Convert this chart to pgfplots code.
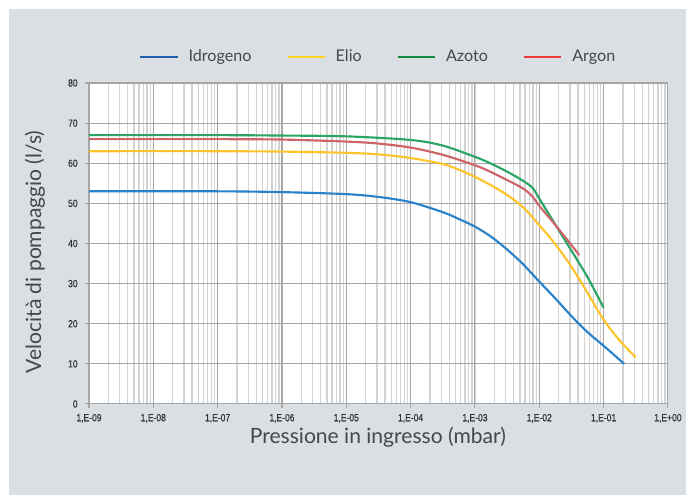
\documentclass[border=0pt]{standalone}
\usepackage{pgfplots}
\pgfplotsset{compat=1.18}
\usepackage{fontspec}
\setmainfont{Lato}
\newfontfamily\tickfont[FakeStretch=0.82,FakeBold=0.6]{Liberation Sans}
\definecolor{panel}{HTML}{D9DFE2}
\definecolor{cblue}{HTML}{2A82CA}
\definecolor{cyellow}{HTML}{FEC42C}
\definecolor{cgreen}{HTML}{2AA565}
\definecolor{cred}{HTML}{CE6468}
\definecolor{lblue}{HTML}{1F5FAE}
\definecolor{lyellow}{HTML}{FFD21F}
\definecolor{lgreen}{HTML}{138A43}
\definecolor{lred}{HTML}{EE3A3A}
\definecolor{txt}{HTML}{333333}
\definecolor{ltxt}{HTML}{474747}
\definecolor{gmaj}{HTML}{A6A6A6}
\definecolor{gmin}{HTML}{D3D3D3}
\begin{document}
\begin{tikzpicture}[x=0.75pt,y=0.75pt]
\fill[white] (0,0) rectangle (686,496);
\fill[panel] (9,1) rectangle (686,487);
\begin{axis}[
  at={(66.75pt,69pt)}, anchor=south west,
  scale only axis, width=434.25pt, height=240.75pt,
  xmode=log, xmin=1e-9, xmax=1, ymin=0, ymax=80,
  axis background/.style={fill=white},
  xtick={1e-9,1e-8,1e-7,1e-6,1e-5,1e-4,1e-3,1e-2,1e-1,1},
  xticklabels={{1,E-09},{1,E-08},{1,E-07},{1,E-06},{1,E-05},{1,E-04},{1,E-03},{1,E-02},{1,E-01},{1,E+00}},
  ytick={0,10,...,80},
  /pgf/number format/assume math mode=true,
  ticklabel style={font=\tickfont\fontsize{7.8}{9}\selectfont, text=txt},
  xticklabel style={yshift=-1pt},
  yticklabel style={xshift=-2pt},
  grid=both,
  major grid style={gmaj, line width=0.8pt},
  minor grid style={gmin, line width=0.9pt},
  minor x tick num=8,
  axis line style={gmaj, line width=0.8pt},
  tick style={gmaj, line width=0.8pt},
  tick align=outside, major tick length=3pt, minor tick length=0pt,
  xtick pos=bottom, ytick pos=left,
  legend columns=4,
  legend style={at={(0.5,1.081)}, anchor=center, draw=none, fill=none,
    font=\fontsize{12.1}{14}\selectfont, text=ltxt,
    /tikz/every odd column/.append style={column sep=5pt},
    /tikz/every even column/.append style={column sep=24pt}},
  legend image code/.code={\draw[#1, line width=2.2pt] (0pt,0pt) -- (28pt,0pt);},
  every axis plot/.append style={line width=1.6pt, smooth, tension=0.5},
]
\addplot[cblue, forget plot] coordinates {
(1e-9,53.0) (1e-7,53.0) (1e-6,52.8) (1e-5,52.3) (3.162e-5,51.6) (1e-4,50.3)
(3.162e-4,47.8) (5.623e-4,46.1) (1e-3,44.2) (1.778e-3,41.7) (3.162e-3,38.5) (5.623e-3,34.8)
(1e-2,30.5) (1.778e-2,26.3) (3.162e-2,21.9) (5.623e-2,17.9) (1e-1,14.5) (1.413e-1,12.4)
(2.09e-1,10.0)};
\addplot[cyellow, forget plot] coordinates {
(1e-9,63.0) (1e-7,63.0) (1e-6,62.9) (1e-5,62.6) (3.162e-5,62.2) (1e-4,61.3)
(3.162e-4,59.8) (5.623e-4,58.4) (1e-3,56.6) (1.778e-3,54.5) (3.162e-3,52.1) (5.623e-3,49.0)
(1e-2,44.6) (1.778e-2,39.8) (3.162e-2,34.2) (5.623e-2,27.7) (1e-1,21.0) (1.778e-1,15.8)
(3.162e-1,11.6)};
\addplot[cgreen, forget plot] coordinates {
(1e-9,67.0) (1e-7,67.0) (1e-6,66.9) (1e-5,66.7) (1e-4,65.8) (3.162e-4,64.4)
(1e-3,61.6) (1.778e-3,59.9) (3.162e-3,57.9) (5.623e-3,55.6) (7.94e-3,53.8) (1e-2,51.2)
(1.778e-2,44.7) (3.162e-2,38.2) (5.623e-2,31.6) (1e-1,24.0)};
\addplot[cred, forget plot] coordinates {
(1e-9,66.0) (1e-7,66.0) (1e-6,65.9) (1e-5,65.4) (3.162e-5,64.9) (1e-4,63.9)
(3.162e-4,62.1) (1e-3,59.5) (1.778e-3,57.8) (3.162e-3,55.8) (5.623e-3,53.7) (7.94e-3,51.6)
(1e-2,49.4) (1.778e-2,44.6) (3.162e-2,39.6) (4.17e-2,37.1)};
\addlegendimage{lblue}
\addlegendentry{Idrogeno}
\addlegendimage{lyellow}
\addlegendentry{Elio}
\addlegendimage{lgreen}
\addlegendentry{Azoto}
\addlegendimage{lred}
\addlegendentry{Argon}
\end{axis}
\node[text=ltxt, font=\fontsize{15.8}{18}\selectfont] at (378,59) {Pressione in ingresso (mbar)};
\node[text=ltxt, font=\fontsize{15.8}{18}\selectfont, rotate=90] at (35,244) {Velocità di pompaggio (l/s)};
\end{tikzpicture}
\end{document}
